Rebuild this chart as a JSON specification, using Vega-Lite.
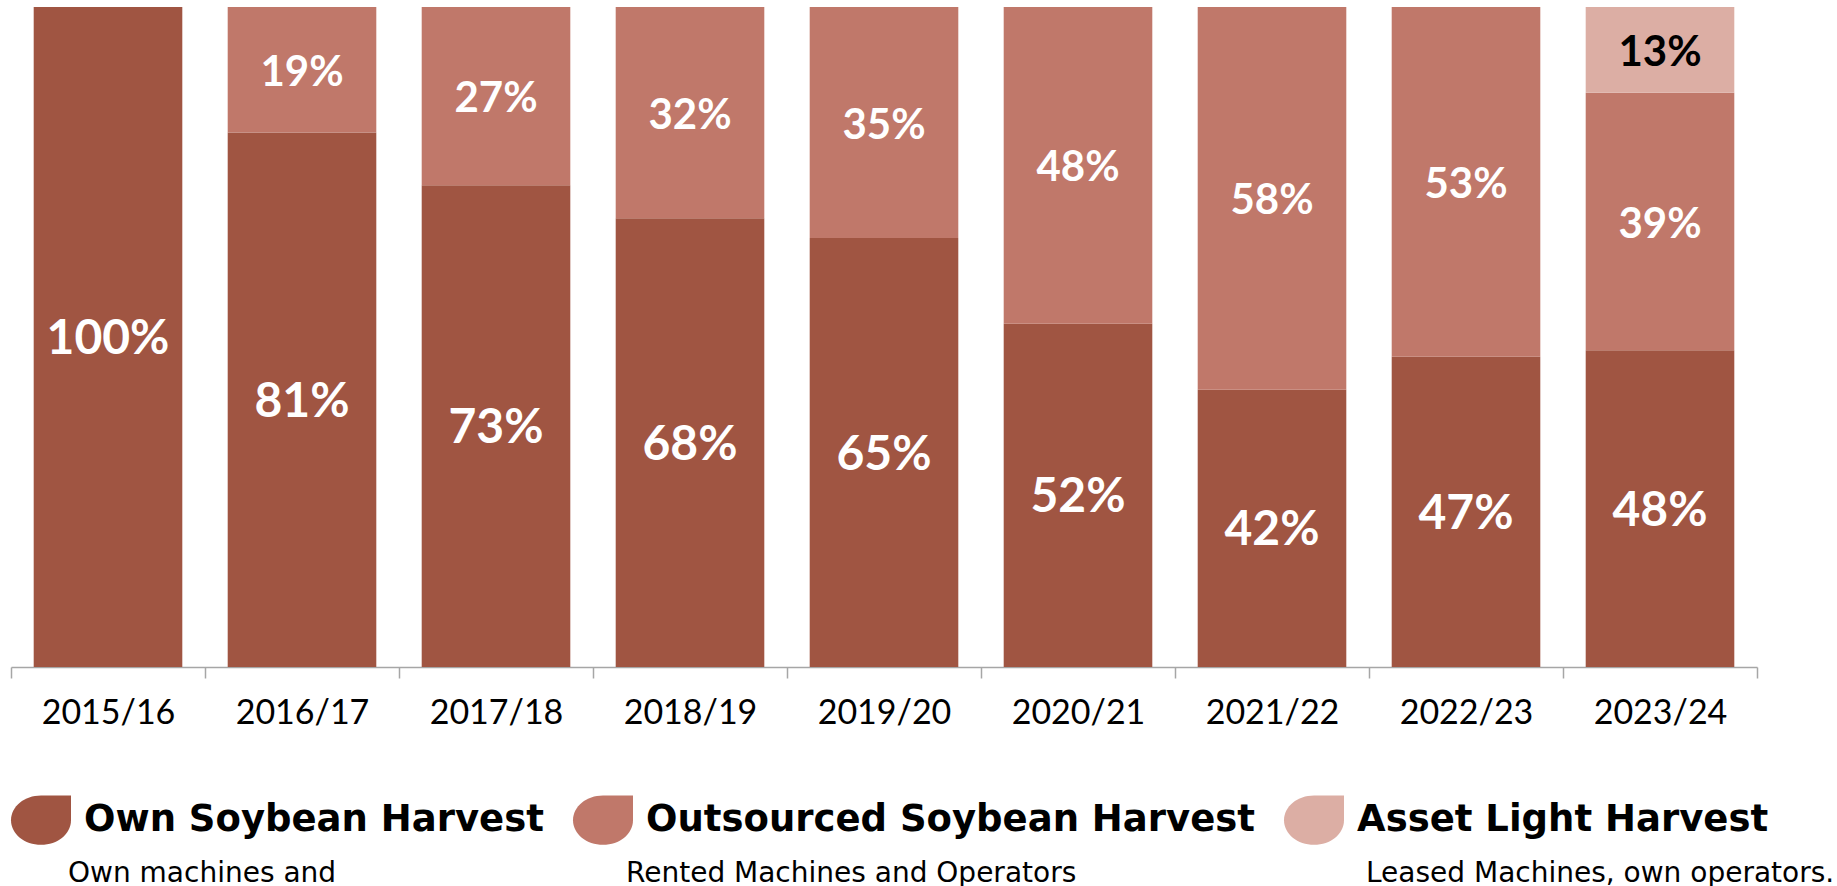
{
  "$schema": "https://vega.github.io/schema/vega-lite/v6.json",
  "width": 1746,
  "height": 660,
  "autosize": {"type": "none"},
  "padding": {"left": 11, "top": 7, "right": 80, "bottom": 219},
  "background": "white",
  "config": {
    "view": {"stroke": null},
    "legend": {"layout": {"bottom": {"anchor": "start", "direction": "vertical", "margin": 15}}}
  },
  "data": {
    "values": [
      {"season": "2015/16", "type": "Own Soybean Harvest", "note": "Own machines and", "pct": 1.0},
      {"season": "2016/17", "type": "Own Soybean Harvest", "note": "Own machines and", "pct": 0.81},
      {"season": "2016/17", "type": "Outsourced Soybean Harvest", "note": "Rented Machines and Operators", "pct": 0.19},
      {"season": "2017/18", "type": "Own Soybean Harvest", "note": "Own machines and", "pct": 0.73},
      {"season": "2017/18", "type": "Outsourced Soybean Harvest", "note": "Rented Machines and Operators", "pct": 0.27},
      {"season": "2018/19", "type": "Own Soybean Harvest", "note": "Own machines and", "pct": 0.68},
      {"season": "2018/19", "type": "Outsourced Soybean Harvest", "note": "Rented Machines and Operators", "pct": 0.32},
      {"season": "2019/20", "type": "Own Soybean Harvest", "note": "Own machines and", "pct": 0.65},
      {"season": "2019/20", "type": "Outsourced Soybean Harvest", "note": "Rented Machines and Operators", "pct": 0.35},
      {"season": "2020/21", "type": "Own Soybean Harvest", "note": "Own machines and", "pct": 0.52},
      {"season": "2020/21", "type": "Outsourced Soybean Harvest", "note": "Rented Machines and Operators", "pct": 0.48},
      {"season": "2021/22", "type": "Own Soybean Harvest", "note": "Own machines and", "pct": 0.42},
      {"season": "2021/22", "type": "Outsourced Soybean Harvest", "note": "Rented Machines and Operators", "pct": 0.58},
      {"season": "2022/23", "type": "Own Soybean Harvest", "note": "Own machines and", "pct": 0.47},
      {"season": "2022/23", "type": "Outsourced Soybean Harvest", "note": "Rented Machines and Operators", "pct": 0.53},
      {"season": "2023/24", "type": "Own Soybean Harvest", "note": "Own machines and", "pct": 0.48},
      {"season": "2023/24", "type": "Outsourced Soybean Harvest", "note": "Rented Machines and Operators", "pct": 0.39},
      {"season": "2023/24", "type": "Asset Light Harvest", "note": "Leased Machines, own operators.", "pct": 0.13}
    ]
  },
  "transform": [
    {"calculate": "indexof(['Own Soybean Harvest','Outsourced Soybean Harvest','Asset Light Harvest'], datum.type)", "as": "k"}
  ],
  "encoding": {
    "x": {
      "field": "season",
      "type": "nominal",
      "scale": {"paddingInner": 0, "paddingOuter": 0},
      "axis": {
        "title": null,
        "labelAngle": 0,
        "labelFont": "Lato",
        "labelFontSize": 34,
        "labelColor": "#000000",
        "labelPadding": 18,
        "domainColor": "#A6A6A6",
        "domainWidth": 1.5,
        "tickColor": "#A6A6A6",
        "tickWidth": 1.5,
        "tickSize": 11,
        "tickBand": "extent"
      }
    }
  },
  "layer": [
    {
      "mark": {"type": "bar", "width": {"band": 0.766}},
      "encoding": {
        "y": {"field": "pct", "type": "quantitative", "stack": "zero", "scale": {"domain": [0, 1], "nice": false}, "axis": null},
        "color": {
          "field": "type",
          "type": "nominal",
          "scale": {
            "domain": ["Own Soybean Harvest", "Outsourced Soybean Harvest", "Asset Light Harvest"],
            "range": ["#A05542", "#C0786A", "#DCAEA4"]
          },
          "legend": {
            "orient": "bottom",
            "direction": "horizontal",
            "title": null,
            "offset": 60,
            "symbolType": "M-1,0 A1,0.82 0 0,1 0,-0.82 L1,-0.82 L1,0 A1,0.82 0 0,1 0,0.82 A1,0.82 0 0,1 -1,0 Z",
            "symbolSize": 3600,
            "symbolStrokeWidth": 0,
            "symbolOpacity": 1,
            "labelFont": "DejaVu Sans",
            "labelFontWeight": "bold",
            "labelFontSize": 37,
            "labelColor": "#000000",
            "labelOffset": 13,
            "labelLimit": 1000,
            "columnPadding": 29
          }
        },
        "order": {"field": "k"}
      }
    },
    {
      "mark": {"type": "text", "font": "Lato", "fontWeight": "bold", "dy": 3},
      "encoding": {
        "y": {"field": "pct", "type": "quantitative", "stack": "zero", "bandPosition": 0.5},
        "detail": {"field": "type"},
        "order": {"field": "k"},
        "text": {"field": "pct", "type": "quantitative", "format": ".0%"},
        "size": {"condition": {"test": "datum.type === 'Own Soybean Harvest'", "value": 48}, "value": 42},
        "color": {"condition": {"test": "datum.type === 'Asset Light Harvest'", "value": "#000000"}, "value": "#FFFFFF"}
      }
    },
    {
      "mark": {"type": "point", "opacity": 0},
      "encoding": {
        "y": {"field": "pct", "type": "quantitative", "stack": null},
        "shape": {
          "field": "note",
          "type": "nominal",
          "sort": ["Own machines and", "Rented Machines and Operators", "Leased Machines, own operators."],
          "scale": {"range": ["M-1,0 A1,0.82 0 0,1 0,-0.82 L1,-0.82 L1,0 A1,0.82 0 0,1 0,0.82 A1,0.82 0 0,1 -1,0 Z"]},
          "legend": {
            "orient": "bottom",
            "direction": "horizontal",
            "title": null,
            "symbolSize": 400,
            "symbolOpacity": 0,
            "symbolStrokeWidth": 0,
            "labelFont": "DejaVu Sans",
            "labelFontSize": 28,
            "labelColor": "#000000",
            "labelOffset": 29,
            "labelLimit": 1000,
            "columnPadding": 232
          }
        }
      }
    }
  ]
}
